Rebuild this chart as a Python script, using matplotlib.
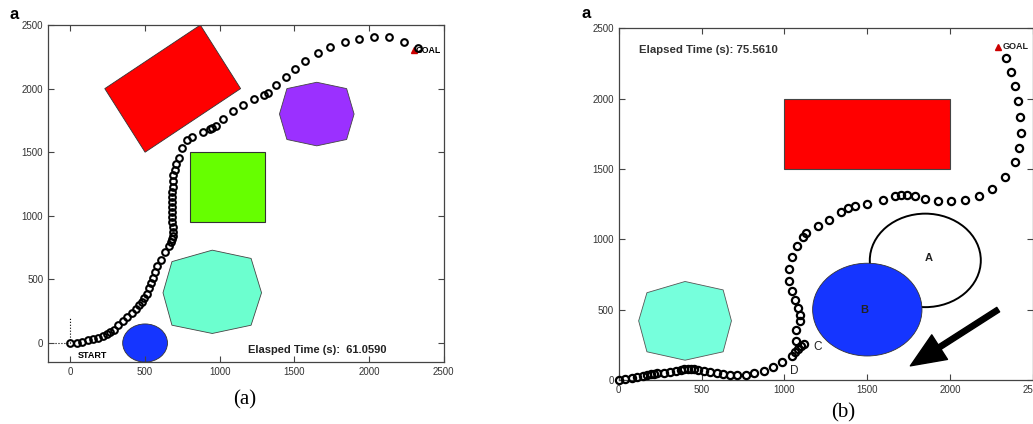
import matplotlib
matplotlib.use('Agg')
import matplotlib.pyplot as plt
from matplotlib.patches import Polygon, Ellipse, Rectangle

plt.rcParams['font.family'] = ['Liberation Sans', 'DejaVu Sans']

# ---- panel (a) data ----
pathA_x = [0, 45, 80, 115, 150, 185, 218, 245, 262, 290, 320, 350, 382, 413, 440, 462,
           480, 493, 516, 529, 538, 551, 564, 582, 609, 636, 658, 671, 680, 685, 686,
           684, 682, 680, 678, 678, 678, 680, 682, 684, 686, 690, 698, 710, 725, 745,
           778, 811, 889, 938, 951, 973, 1024, 1091, 1158, 1227, 1296, 1322, 1380,
           1444, 1507, 1573, 1656, 1740, 1836, 1931, 2036, 2133, 2233, 2329]
pathA_y = [0, 0, 10, 20, 30, 40, 55, 68, 84, 105, 140, 173, 205, 236, 268, 299,
           326, 352, 389, 431, 468, 509, 557, 604, 651, 714, 761, 793, 815, 840, 870,
           910, 950, 990, 1030, 1070, 1110, 1150, 1190, 1230, 1275, 1318, 1360, 1405,
           1455, 1530, 1596, 1622, 1659, 1680, 1688, 1706, 1764, 1824, 1874, 1916,
           1950, 1969, 2029, 2089, 2155, 2215, 2283, 2331, 2367, 2388, 2402, 2402,
           2367, 2318]

redA = [(230, 2000), (870, 2500), (1140, 2000), (500, 1500)]
greenA = (800, 950, 500, 550)  # x, y, w, h
purpleA = [(1650, 2050), (1850, 2000), (1900, 1800), (1850, 1600), (1650, 1550),
           (1450, 1600), (1400, 1800), (1450, 2000)]
cyanA = [(950, 730), (1210, 665), (1280, 395), (1210, 140), (950, 75), (680, 140),
         (620, 395), (680, 640)]
blueA = (500, 0, 300, 300)  # cx, cy, w, h
goalA = (2300, 2300)

# ---- panel (b) data ----
pathB_x = [0, 38, 79, 113, 145, 173, 194, 210, 230, 270, 311, 347, 376, 396, 416,
           436, 456, 476, 513, 549, 590, 630, 670, 715, 765, 816, 876, 933, 988,
           1048, 1063, 1079, 1099, 1119, 1069, 1071, 1091, 1091, 1079, 1063, 1048,
           1030, 1028, 1048, 1075, 1109, 1133, 1200, 1271, 1341, 1382, 1428, 1499,
           1596, 1665, 1701, 1741, 1786, 1851, 1927, 2008, 2089, 2174, 2255, 2331,
           2390, 2418, 2426, 2424, 2410, 2390, 2368, 2335]
pathB_y = [0, 7, 14, 21, 28, 38, 43, 45, 47, 50, 54, 61, 71, 76, 78,
           78, 76, 71, 64, 54, 47, 40, 35, 35, 38, 47, 66, 92, 125,
           168, 199, 223, 239, 256, 275, 358, 422, 465, 512, 571, 635,
           706, 789, 875, 951, 1017, 1046, 1093, 1136, 1193, 1221, 1235, 1252,
           1283, 1306, 1313, 1318, 1306, 1287, 1273, 1273, 1283, 1311, 1361, 1441,
           1548, 1650, 1757, 1871, 1984, 2089, 2191, 2293]

redB = (1000, 1500, 1000, 500)
cyanB = [(400, 700), (630, 640), (680, 420), (630, 200), (400, 140), (170, 200),
         (120, 420), (170, 620)]
circA_B = (1850, 850, 670, 665)
blueB = (1500, 500, 660, 660)
goalB = (2290, 2370)
arrow_from = (2290, 500)
arrow_to = (1760, 100)

ticks = [0, 500, 1000, 1500, 2000, 2500]


def style_axes(ax):
    ax.set_xticks(ticks)
    ax.set_yticks(ticks)
    ax.tick_params(direction='in', top=True, right=True, labelsize=7,
                   labelcolor='#333333', length=4, width=0.8, color='#444444')
    for s in ax.spines.values():
        s.set_color('#444444')
        s.set_linewidth(0.9)


fig = plt.figure(figsize=(10.33, 4.24), dpi=100)

# ---- panel (a) ----
ax1 = fig.add_axes([0.0465, 0.146, 0.383, 0.795])
ax1.set_xlim(-150, 2500)
ax1.set_ylim(-150, 2500)
style_axes(ax1)
ax1.add_patch(Polygon(redA, closed=True, fc='#ff0000', ec='#333333', lw=0.6))
ax1.add_patch(Rectangle(greenA[:2], greenA[2], greenA[3], fc='#66ff00', ec='#333333', lw=0.8))
ax1.add_patch(Polygon(purpleA, closed=True, fc='#9b30ff', ec='#444444', lw=0.6))
ax1.add_patch(Polygon(cyanA, closed=True, fc='#6cffcf', ec='#444444', lw=0.6))
ax1.add_patch(Ellipse(blueA[:2], blueA[2], blueA[3], fc='#1535ff', ec='#333333', lw=0.6))
ax1.plot([0, 0], [0, 200], ls=':', color='k', lw=0.8)
ax1.plot([-100, 0], [0, 0], ls=':', color='k', lw=0.8)
ax1.plot(pathA_x, pathA_y, 'o', ms=4.8, mfc='none', mec='k', mew=1.5, zorder=5)
ax1.plot(*goalA, '^', ms=4, color='#cc0000', zorder=4)
ax1.text(goalA[0] + 15, goalA[1], 'GOAL', fontsize=6.3, fontweight='bold', va='center')
ax1.text(50, -100, 'START', fontsize=6.5, fontweight='bold', va='center')
ax1.text(1190, -57, 'Elasped Time (s):  61.0590', fontsize=8, fontweight='bold',
         color='#222222', va='center')

# ---- panel (b) ----
ax2 = fig.add_axes([0.599, 0.104, 0.401, 0.829])
ax2.set_xlim(0, 2500)
ax2.set_ylim(0, 2500)
style_axes(ax2)
ax2.add_patch(Rectangle(redB[:2], redB[2], redB[3], fc='#ff0000', ec='#444444', lw=0.8))
ax2.add_patch(Polygon(cyanB, closed=True, fc='#76ffdc', ec='#555555', lw=0.6))
ax2.add_patch(Ellipse(circA_B[:2], circA_B[2], circA_B[3], fc='white', ec='k', lw=1.4))
ax2.add_patch(Ellipse(blueB[:2], blueB[2], blueB[3], fc='#1535ff', ec='#333333', lw=0.6))
ax2.plot(pathB_x, pathB_y, 'o', ms=5.2, mfc='none', mec='k', mew=1.6, zorder=5,
         clip_on=False)
ax2.plot(*goalB, '^', ms=4.5, color='#cc0000', zorder=4)
ax2.text(goalB[0] + 25, goalB[1], 'GOAL', fontsize=6.5, fontweight='bold', va='center',
         color='#222222')
ax2.text(120, 2345, 'Elapsed Time (s): 75.5610', fontsize=8.2, fontweight='bold',
         color='#333333', va='center')
ax2.text(1870, 870, 'A', fontsize=8, fontweight='bold', color='#222222', ha='center', va='center')
ax2.text(1480, 500, 'B', fontsize=8, fontweight='bold', color='#222222', ha='center', va='center')
ax2.text(1200, 232, 'C', fontsize=8.5, color='#222222', ha='center', va='center')
ax2.text(1060, 62, 'D', fontsize=8.5, color='#222222', ha='center', va='center')
ax2.annotate('', xy=arrow_to, xytext=arrow_from,
             arrowprops=dict(width=3.8, headwidth=21, headlength=25, color='k'))

# panel letters and captions
fig.text(0.009, 0.955, 'a', fontsize=12, fontweight='bold')
fig.text(0.563, 0.957, 'a', fontsize=12, fontweight='bold')
fig.text(0.237, 0.045, '(a)', fontsize=15, family='Liberation Serif', ha='center')
fig.text(0.816, 0.015, '(b)', fontsize=15, family='Liberation Serif', ha='center')

fig.savefig('out.png', dpi=100)
